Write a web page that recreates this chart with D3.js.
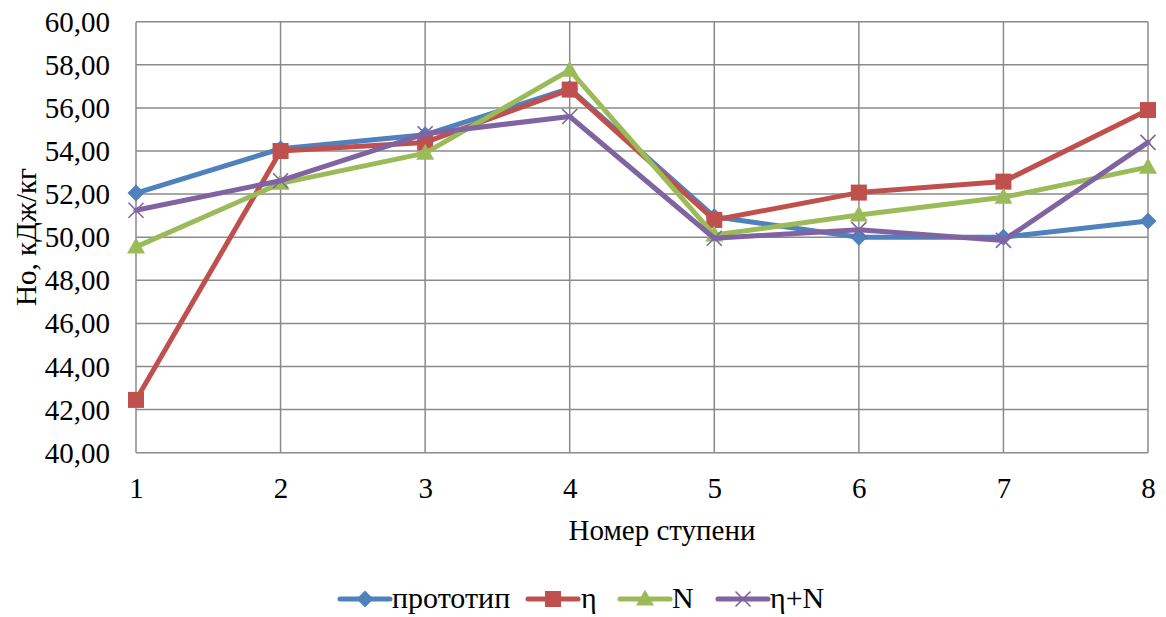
<!DOCTYPE html>
<html>
<head>
<meta charset="utf-8">
<script src="https://cdn.jsdelivr.net/npm/d3@7/dist/d3.min.js"></script>
<style>
  html, body { margin: 0; padding: 0; background: #fff; }
</style>
</head>
<body>
<svg id="chart" width="1166" height="617"></svg>
<script>
// Stage numbers and head values (kJ/kg) per design variant
const stages = [1, 2, 3, 4, 5, 6, 7, 8];
const prototype = [52.05, 54.1, 54.75, 56.9, 50.95, 50.0, 50.0, 50.75];
const etaOpt = [42.45, 54.0, 54.4, 56.85, 50.8, 52.07, 52.58, 55.9];
const nOpt = [49.55, 52.5, 53.9, 57.75, 50.1, 51.03, 51.85, 53.25];
const etaNOpt = [51.25, 52.62, 54.8, 55.6, 49.95, 50.35, 49.85, 54.4];
const yTicks = [40, 42, 44, 46, 48, 50, 52, 54, 56, 58, 60];

const series = [
  { name: "прототип", values: prototype, color: "#4F81BD", marker: "diamond" },
  { name: "η", values: etaOpt, color: "#C0504D", marker: "square" },
  { name: "N", values: nOpt, color: "#9BBB59", marker: "triangle" },
  { name: "η+N", values: etaNOpt, color: "#8064A2", marker: "cross" }
];

const svg = d3.select("#chart");
const margin = { left: 136, right: 1148, top: 21.7, bottom: 452.7 };
const fontFamily = "'Liberation Serif', 'Times New Roman', Times, serif";
const fontSize = "29px";

const x = d3.scaleLinear().domain([1, 8]).range([margin.left, margin.right]);
const y = d3.scaleLinear().domain([40, 60]).range([margin.bottom, margin.top]);

const gridColor = "#8a8a8a";

// Horizontal grid
svg.append("g")
  .selectAll("line")
  .data(yTicks)
  .join("line")
  .attr("x1", margin.left).attr("x2", margin.right)
  .attr("y1", d => y(d)).attr("y2", d => y(d))
  .attr("stroke", gridColor).attr("stroke-width", 1.5);

// Vertical grid
svg.append("g")
  .selectAll("line")
  .data(stages)
  .join("line")
  .attr("x1", d => x(d)).attr("x2", d => x(d))
  .attr("y1", margin.top).attr("y2", margin.bottom)
  .attr("stroke", gridColor).attr("stroke-width", 1.5);

// Y axis labels
const yAxis = d3.axisLeft(y).tickValues(yTicks).tickSize(0).tickPadding(26)
  .tickFormat(d => d3.format(".2f")(d).replace(".", ","));
const gy = svg.append("g").attr("transform", `translate(${margin.left},0)`).call(yAxis)
  .attr("font-family", fontFamily).attr("font-size", fontSize);
gy.select(".domain").remove();
gy.selectAll("text").attr("fill", "#000").attr("dy", "0.33em");

// X axis labels
const xAxis = d3.axisBottom(x).tickValues(stages).tickSize(0).tickPadding(25).tickFormat(d3.format("d"));
const gx = svg.append("g").attr("transform", `translate(0,${margin.bottom})`).call(xAxis)
  .attr("font-family", fontFamily).attr("font-size", fontSize);
gx.select(".domain").remove();
gx.selectAll("text").attr("fill", "#000");

// Axis titles
svg.append("text")
  .attr("x", 662).attr("y", 540)
  .attr("text-anchor", "middle")
  .attr("font-family", fontFamily).attr("font-size", fontSize)
  .text("Номер ступени");

svg.append("text")
  .attr("transform", "translate(36,237) rotate(-90)")
  .attr("text-anchor", "middle")
  .attr("font-family", fontFamily).attr("font-size", fontSize)
  .text("Но, кДж/кг");

// Marker drawing
function drawMarker(g, type, color, cx, cy) {
  if (type === "diamond") {
    g.append("path")
      .attr("d", `M${cx},${cy - 8.5}L${cx + 8.5},${cy}L${cx},${cy + 8.5}L${cx - 8.5},${cy}Z`)
      .attr("fill", color);
  } else if (type === "square") {
    g.append("rect")
      .attr("x", cx - 8).attr("y", cy - 8).attr("width", 16).attr("height", 16)
      .attr("fill", color);
  } else if (type === "triangle") {
    g.append("path")
      .attr("d", `M${cx},${cy - 9.5}L${cx + 9},${cy + 6.5}L${cx - 9},${cy + 6.5}Z`)
      .attr("fill", color);
  } else if (type === "cross") {
    g.append("path")
      .attr("d", `M${cx - 7.5},${cy - 7.5}L${cx + 7.5},${cy + 7.5}M${cx - 7.5},${cy + 7.5}L${cx + 7.5},${cy - 7.5}`)
      .attr("stroke", color).attr("stroke-width", 1.6).attr("fill", "none");
  }
}

const line = d3.line().x((d, i) => x(stages[i])).y(d => y(d));

series.forEach(s => {
  const g = svg.append("g");
  g.append("path")
    .datum(s.values)
    .attr("d", line)
    .attr("fill", "none")
    .attr("stroke", s.color)
    .attr("stroke-width", 5)
    .attr("stroke-linejoin", "round")
    .attr("stroke-linecap", "round");
  s.values.forEach((v, i) => drawMarker(g, s.marker, s.color, x(stages[i]), y(v)));
});

// Legend
const legendItems = [
  { x0: 340, tx: 392 },
  { x0: 528, tx: 581 },
  { x0: 620, tx: 672 },
  { x0: 718, tx: 770 }
];
const legendY = 599;
series.forEach((s, i) => {
  const li = legendItems[i];
  const g = svg.append("g");
  g.append("line")
    .attr("x1", li.x0).attr("x2", li.x0 + 50)
    .attr("y1", legendY).attr("y2", legendY)
    .attr("stroke", s.color).attr("stroke-width", 5).attr("stroke-linecap", "round");
  drawMarker(g, s.marker, s.color, li.x0 + 25, legendY);
  g.append("text")
    .attr("x", li.tx).attr("y", 608)
    .attr("font-family", fontFamily).attr("font-size", "30px")
    .text(s.name);
});
</script>
</body>
</html>
